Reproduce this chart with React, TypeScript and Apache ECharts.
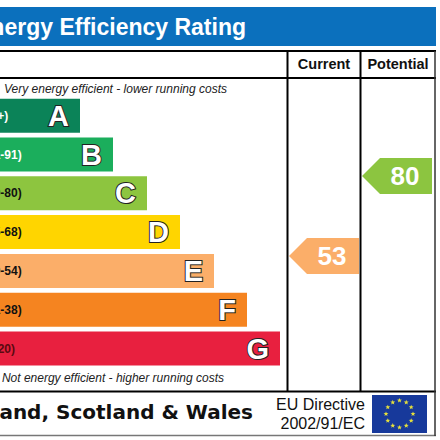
import React, { useEffect, useRef } from "react";
import * as echarts from "echarts";

const bands = ["A", "B", "C", "D", "E", "F", "G"];
const ranges = ["(92+)", "(81-91)", "(69-80)", "(55-68)", "(39-54)", "(21-38)", "(1-20)"];
const barEnds = [80, 113, 147, 180, 214, 247, 280];
const barColors = ["#0b8358", "#1bae5c", "#8dc53f", "#ffd500", "#fbae69", "#f58420", "#e8203f"];
const ratingLabels = ["Current", "Potential"];
const ratingColumnEnds = [359, 432];
const ratingValues = [53, 80];
const ratingColors = ["#fbae69", "#8cc540"];

const FONT = "'Liberation Sans', Arial, sans-serif";

function starPoints(cx: number, cy: number, r: number) {
  const pts: number[][] = [];
  for (let i = 0; i < 10; i++) {
    const a = -Math.PI / 2 + (i * Math.PI) / 5;
    const rr = i % 2 === 0 ? r : r * 0.42;
    pts.push([cx + rr * Math.cos(a), cy + rr * Math.sin(a)]);
  }
  return pts;
}

function flagElements() {
  const cx = 399.5, cy = 414;
  const stars: any[] = [];
  for (let i = 0; i < 12; i++) {
    const a = (i * Math.PI) / 6;
    stars.push({
      type: "polygon",
      shape: { points: starPoints(cx + 13.5 * Math.sin(a), cy - 13.5 * Math.cos(a), 2.6) },
      style: { fill: "#e6e03c" },
    });
  }
  return [
    { type: "rect", shape: { x: 372, y: 395, width: 55, height: 38 }, style: { fill: "#17399b" } },
    ...stars,
  ];
}

function line(x1: number, y1: number, x2: number, y2: number, stroke = "#000", lineWidth = 2) {
  return { type: "line", shape: { x1, y1, x2, y2 }, style: { stroke, lineWidth } };
}

function txt(x: number, y: number, text: string, font: string, fill: string, align = "center") {
  return { type: "text", x, y, style: { text, font, fill, textAlign: align, textVerticalAlign: "middle" } };
}

export default function App() {
  const ref = useRef<HTMLDivElement>(null);
  useEffect(() => {
    const chart = echarts.init(ref.current!, undefined, { renderer: "svg" });
    chart.setOption({
      animation: false,
      backgroundColor: "#fff",
      grid: { left: 0, right: 0, top: 96.3, height: 271.6 },
      xAxis: { type: "value", min: 0, max: 440, show: false },
      yAxis: [
        { type: "category", data: bands, inverse: true, show: false },
        { type: "value", min: 15.2, max: 106.9, show: false },
      ],
      graphic: [
        { type: "rect", shape: { x: 0, y: 7, width: 436, height: 39 }, style: { fill: "#0b70bd" } },
        txt(246, 27, "Energy Efficiency Rating", `bold 23px ${FONT}`, "#fff", "right"),
        line(0, 51, 436, 51),
        line(0, 78, 436, 78),
        line(0, 391.5, 436, 391.5),
        line(0, 435.5, 436, 435.5, "#777", 1.5),
        line(287.5, 51, 287.5, 391.5),
        line(360.5, 51, 360.5, 391.5),
        line(435, 51, 435, 436, "#333", 1.5),
        txt(324, 64, ratingLabels[0], `bold 14.5px ${FONT}`, "#111"),
        txt(398, 64, ratingLabels[1], `bold 14.5px ${FONT}`, "#111"),
        txt(227, 89, "Very energy efficient - lower running costs", `italic 12px ${FONT}`, "#222", "right"),
        txt(224, 378, "Not energy efficient - higher running costs", `italic 12px ${FONT}`, "#222", "right"),
        txt(253, 412, "England, Scotland & Wales", `bold 20px 'DejaVu Sans', Verdana, sans-serif`, "#111", "right"),
        txt(365, 404, "EU Directive", `16px ${FONT}`, "#111", "right"),
        txt(365, 423, "2002/91/EC", `16px ${FONT}`, "#111", "right"),
        ...flagElements(),
      ],
      series: [
        {
          type: "bar",
          data: barEnds.map((v, i) => ({
            value: v,
            itemStyle: { color: barColors[i] },
            label: { formatter: bands[i] },
          })),
          barWidth: 34,
          barGap: "-100%",
          label: {
            show: true,
            position: "insideRight",
            distance: 11,
            fontFamily: FONT,
            fontWeight: "bold",
            fontSize: 29,
            color: "#fff",
            textBorderColor: "#222",
            textBorderWidth: 2,
          },
        },
        {
          type: "bar",
          data: barEnds.map((v, i) => ({
            value: v,
            label: {
              formatter: ranges[i],
              color: i < 2 ? "#fff" : i === 6 ? "#5a0a10" : "#111",
              position: [i === 0 ? -20 : i === 6 ? -17 : -17, "50%"],
            },
          })),
          barWidth: 34,
          barGap: "-100%",
          itemStyle: { color: "transparent" },
          label: {
            show: true,
            align: "left",
            verticalAlign: "middle",
            fontFamily: FONT,
            fontWeight: "bold",
            fontSize: 12,
          },
          silent: true,
        },
        {
          type: "custom",
          yAxisIndex: 1,
          clip: false,
          data: ratingValues.map((v, i) => [ratingColumnEnds[i], v, i]),
          encode: { x: 0, y: 1 },
          renderItem: (_p: any, api: any) => {
            const [x, y] = api.coord([api.value(0), api.value(1)]);
            const i = api.value(2);
            const w = 70, h = 18, tip = 18;
            return {
              type: "group",
              children: [
                {
                  type: "polygon",
                  shape: { points: [[x, y - h], [x, y + h], [x - w + tip, y + h], [x - w, y], [x - w + tip, y - h]] },
                  style: { fill: ratingColors[i] },
                },
                {
                  type: "text",
                  x: x - 27,
                  y,
                  style: {
                    text: String(api.value(1)),
                    font: `bold 26px ${FONT}`,
                    fill: "#fff",
                    textAlign: "center",
                    textVerticalAlign: "middle",
                  },
                },
              ],
            };
          },
        },
      ],
    });
    return () => chart.dispose();
  }, []);
  return <div ref={ref} style={{ position: "absolute", left: 0, top: 0, width: 440, height: 440 }} />;
}
